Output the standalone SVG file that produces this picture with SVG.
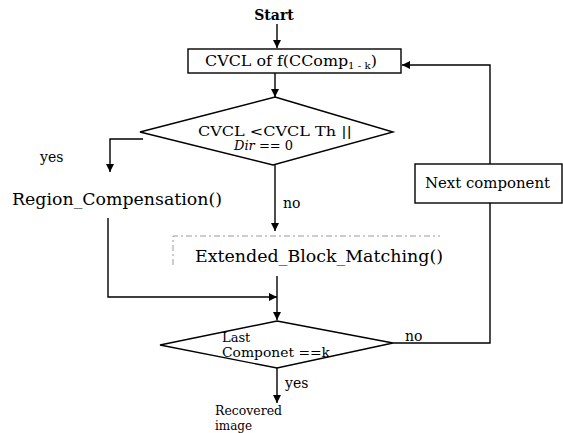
<svg xmlns="http://www.w3.org/2000/svg" width="563" height="433" viewBox="0 0 563 433">
  <style>
    .ln { fill: none; stroke: #000; stroke-width: 1.4; }
    .shape { fill: #fff; stroke: #000; stroke-width: 1.4; }
    .faint { fill: none; stroke: #999; stroke-width: 1; stroke-dasharray: 6 3 2 3; }
    .t { font-family: "DejaVu Serif", "Liberation Serif", serif; fill: #000; }
    .big { font-size: 16px; }
    .mid { font-size: 14px; }
    .sm { font-size: 13px; }
  </style>
  <defs>
    <marker id="arr" viewBox="0 0 10 10" refX="10" refY="5" markerWidth="8" markerHeight="8" markerUnits="userSpaceOnUse" orient="auto">
      <path d="M0,0 L10,5 L0,10 Z" fill="#000"/>
    </marker>
  </defs>

  <!-- connectors -->
  <g id="connectors">
    <line class="ln" x1="277" y1="24" x2="277" y2="48" marker-end="url(#arr)"/>
    <line class="ln" x1="275" y1="73" x2="275" y2="97" marker-end="url(#arr)"/>
    <polyline class="ln" points="143,139 110,139 110,172" marker-end="url(#arr)"/>
    <line class="ln" x1="275" y1="165" x2="275" y2="231" marker-end="url(#arr)"/>
    <polyline class="ln" points="108,218 108,297 277,297" marker-end="url(#arr)"/>
    <line class="ln" x1="277" y1="276" x2="277" y2="320" marker-end="url(#arr)"/>
    <polyline class="ln" points="393,343 490,343 490,203"/>
    <polyline class="ln" points="490,164 490,65 402,65" marker-end="url(#arr)"/>
    <line class="ln" x1="277" y1="368" x2="277" y2="403" marker-end="url(#arr)"/>
  </g>

  <!-- start label -->
  <g id="start">
    <text class="t mid" x="274" y="20" text-anchor="middle" font-weight="bold">Start</text>
  </g>

  <!-- first step: colour variation per component -->
  <g id="cvcl">
    <rect class="shape" x="188" y="49" width="213" height="24"/>
    <text class="t mid" x="205" y="66" textLength="172" lengthAdjust="spacingAndGlyphs">CVCL of f(CComp<tspan font-size="9" dy="3">1 - k</tspan><tspan dy="-3">)</tspan></text>
  </g>

  <!-- threshold decision -->
  <g id="decision1">
    <polygon class="shape" points="275,97 393,132 273,165 140,132"/>
    <text class="t sm" x="198" y="136" textLength="154" lengthAdjust="spacingAndGlyphs">CVCL &lt;CVCL Th ||</text>
    <text class="t sm" x="234" y="150"><tspan font-style="italic">Dir</tspan> == 0</text>
  </g>
  <text class="t mid" x="40" y="162">yes</text>
  <text class="t mid" x="283" y="208">no</text>

  <!-- region compensation -->
  <g id="region">
    <text class="t big" x="12" y="205" textLength="210" lengthAdjust="spacingAndGlyphs">Region_Compensation()</text>
  </g>

  <!-- extended block matching -->
  <g id="ebm">
    <polyline class="faint" points="173,265 173,236 440,236"/>
    <text class="t big" x="195" y="262" textLength="248" lengthAdjust="spacingAndGlyphs">Extended_Block_Matching()</text>
  </g>

  <!-- last component decision -->
  <g id="decision2">
    <polygon class="shape" points="277,321 393,343 277,368 160,345"/>
    <text class="t sm" x="222" y="342">Last</text>
    <text class="t sm" x="222" y="357" textLength="108" lengthAdjust="spacingAndGlyphs">Componet ==k</text>
  </g>
  <text class="t mid" x="405" y="341">no</text>

  <!-- loop back -->
  <g id="next">
    <rect class="shape" x="415" y="164" width="147" height="39"/>
    <text class="t mid" x="425" y="188" textLength="125" lengthAdjust="spacingAndGlyphs">Next component</text>
  </g>

  <text class="t mid" x="285" y="388">yes</text>

  <!-- end -->
  <g id="end">
    <text class="t" font-size="12" x="215" y="415" textLength="67" lengthAdjust="spacingAndGlyphs">Recovered</text>
    <text class="t" font-size="12" x="215" y="430">image</text>
  </g>
</svg>
